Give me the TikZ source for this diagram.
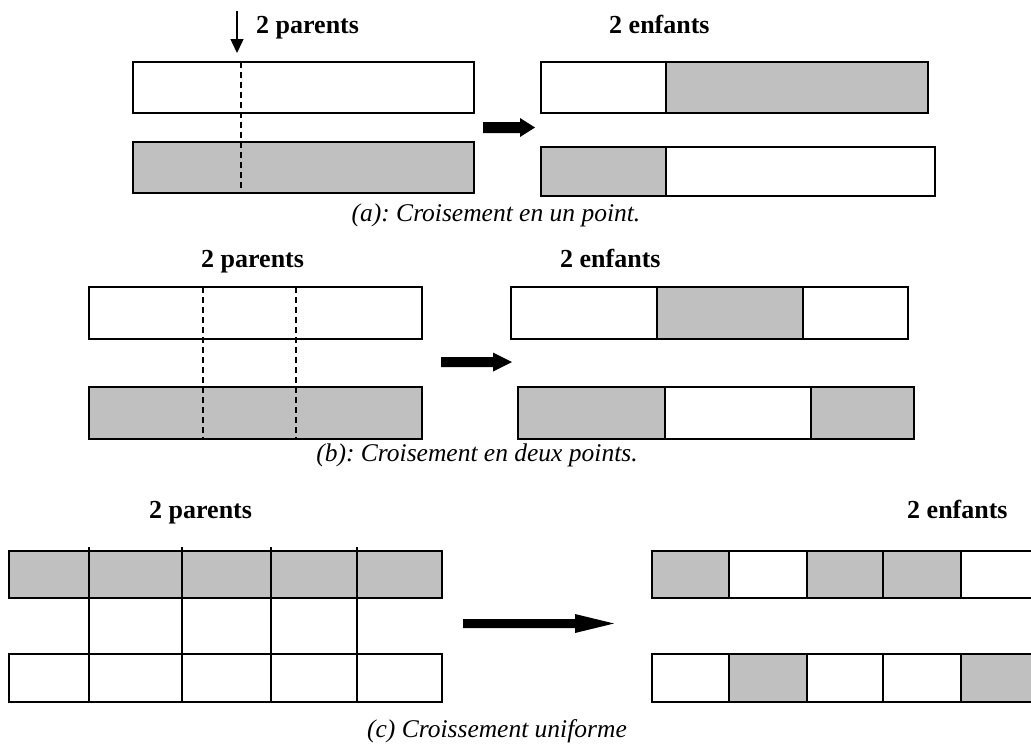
\documentclass[tikz,border=0pt]{standalone}
\usepackage{fontspec}
\setmainfont{Liberation Serif}
\usetikzlibrary{arrows.meta}
\definecolor{cellgray}{HTML}{C0C0C0}
\frenchspacing
% thick block arrow: start x, head x, tip x, mid y, half body, half head
\newcommand\blockarrow[6]{%
  \fill[black] (#1,#4-#5) -- (#2,#4-#5) -- (#2,#4-#6) -- (#3,#4)
    -- (#2,#4+#6) -- (#2,#4+#5) -- (#1,#4+#5) -- cycle;}
\begin{document}
\begin{tikzpicture}[x=1pt,y=-1pt,
  cell/.style={draw=black, line width=1.8pt},
  shade/.style={fill=cellgray},
  cutline/.style={draw=black, line width=1.5pt, dash pattern=on 6pt off 4pt},
  title/.style={font=\bfseries\fontsize{26}{30}\selectfont, inner sep=0pt, anchor=base west},
  caption/.style={font=\itshape\fontsize{25.5}{30}\selectfont, inner sep=0pt, anchor=base}]
\useasboundingbox (0,0) rectangle (1031,745);
\clip (0,0) rectangle (1031,745);

% ---------- (a) one-point crossover ----------
\node[title] (pa) at (256,33) {2 parents};
\node[title] (ea) at (609,33) {2 enfants};
\coordinate (cuttop) at (237,11);
\coordinate (cutpt) at (237,53);
\draw[line width=1.5pt, -{Triangle[length=14pt,width=13pt]}] (cuttop) -- (cutpt);

\draw[cell] (133,62) rectangle (474,113);
\draw[cell, shade] (133,142) rectangle (474,193);
\draw[cutline] (241,62) -- (241,193);

\blockarrow{483}{520}{535}{127.5}{5.5}{9.5}

\fill[cellgray] (666,62) rectangle (928,113);
\draw[cell] (541,62) rectangle (928,113);
\draw[cell] (666,62) -- (666,113);
\fill[cellgray] (541,147) rectangle (666,196);
\draw[cell] (541,147) rectangle (935,196);
\draw[cell] (666,147) -- (666,196);

\node[caption] (capa) at (496,221) {(a): Croisement en un point.};

% ---------- (b) two-point crossover ----------
\node[title] (pb) at (201,267) {2 parents};
\node[title] (eb) at (560,267) {2 enfants};

\draw[cell] (89,287) rectangle (422,339);
\draw[cell, shade] (89,387) rectangle (422,439);
\draw[cutline] (203,287) -- (203,439);
\draw[cutline] (296,287) -- (296,439);

\blockarrow{441}{493}{512}{362}{5}{9.5}

\fill[cellgray] (657,287) rectangle (803,339);
\draw[cell] (511,287) rectangle (908,339);
\draw[cell] (657,287) -- (657,339) (803,287) -- (803,339);
\fill[cellgray] (518,387) rectangle (665,439);
\fill[cellgray] (811,387) rectangle (914,439);
\draw[cell] (518,387) rectangle (914,439);
\draw[cell] (665,387) -- (665,439) (811,387) -- (811,439);

\node[caption] (capb) at (477,461) {(b): Croisement en deux points.};

% ---------- (c) uniform crossover ----------
\node[title] (pc) at (149,518) {2 parents};
\node[title] (ec) at (907,518) {2 enfants};

\draw[cell, shade] (9,551) rectangle (442,598);
\draw[cell] (9,654) rectangle (442,702);
\foreach \x in {89,182,271,357} \draw[cell] (\x,547) -- (\x,702);

\blockarrow{463}{575}{614}{623.5}{4.5}{9.5}

\fill[cellgray] (652,551) rectangle (729,598);
\fill[cellgray] (807,551) rectangle (961,598);
\draw[cell] (652,551) rectangle (1045,598);
\fill[cellgray] (729,654) rectangle (807,702);
\fill[cellgray] (961,654) rectangle (1045,702);
\draw[cell] (652,654) rectangle (1045,702);
\foreach \x in {729,807,883,961} {
  \draw[cell] (\x,551) -- (\x,598);
  \draw[cell] (\x,654) -- (\x,702);
}

\node[caption] (capc) at (497,737) {(c) Croissement uniforme};
\end{tikzpicture}
\end{document}
